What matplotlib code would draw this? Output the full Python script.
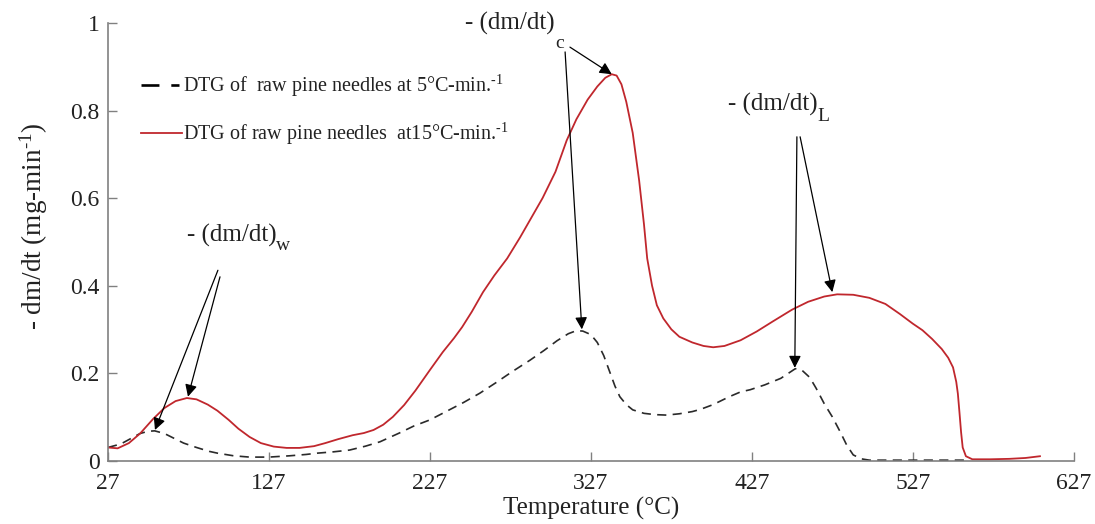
import matplotlib
matplotlib.use("Agg")
import matplotlib.pyplot as plt

plt.rcParams['font.family'] = ['Liberation Serif', 'DejaVu Serif']
plt.rcParams['mathtext.fontset'] = 'custom'
plt.rcParams['mathtext.rm'] = 'Liberation Serif'
plt.rcParams['mathtext.it'] = 'Liberation Serif:italic'

# DTG at 5 °C/min (dashed)
temp_5 = [27, 35, 42, 47, 52, 56, 62, 68, 74, 82, 90, 95, 105, 115, 127, 140, 150,
          157, 167, 177, 187, 196, 208, 217, 227, 237, 248, 258, 268, 278, 289, 298,
          306, 313, 318, 322, 327, 331, 335, 339, 342, 345, 349, 353, 360, 367, 374,
          382, 390, 395, 403, 413, 420, 426, 435, 445, 454, 458, 463, 467, 472, 477,
          482, 486, 490, 495, 500, 520, 540, 560]
dtg_5 = [0.030, 0.038, 0.052, 0.062, 0.067, 0.068, 0.062, 0.051, 0.040, 0.030, 0.021,
         0.017, 0.011, 0.008, 0.008, 0.011, 0.014, 0.017, 0.020, 0.024, 0.033, 0.043,
         0.063, 0.079, 0.093, 0.112, 0.133, 0.154, 0.178, 0.203, 0.229, 0.252, 0.274,
         0.290, 0.297, 0.296, 0.288, 0.270, 0.240, 0.200, 0.170, 0.146, 0.128, 0.116,
         0.108, 0.105, 0.104, 0.107, 0.112, 0.117, 0.128, 0.146, 0.157, 0.162, 0.173,
         0.188, 0.210, 0.207, 0.190, 0.165, 0.130, 0.100, 0.065, 0.035, 0.013, 0.004,
         0.001, 0.001, 0.001, 0.001]

# DTG at 15 °C/min (solid red)
temp_15 = [27, 33, 40, 47, 55, 62, 69, 76, 82, 89, 95, 102, 108, 115, 122, 130, 138,
           146, 155, 162, 170, 179, 186, 192, 198, 204, 211, 218, 227, 235, 242, 247,
           253, 260, 267, 275, 283, 290, 297, 305, 312, 318, 325, 331, 336, 340, 343,
           346, 349, 353, 357, 360, 362, 365, 368, 372, 377, 382, 390, 397, 403, 410,
           420, 430, 440, 452, 462, 472, 480, 490, 500, 510, 519, 527, 533, 539, 545,
           549, 552, 554, 555, 556, 557, 558, 560, 564, 575, 587, 597, 606]
dtg_15 = [0.030, 0.028, 0.040, 0.062, 0.095, 0.120, 0.136, 0.143, 0.140, 0.128, 0.114,
          0.093, 0.073, 0.054, 0.040, 0.032, 0.029, 0.029, 0.033, 0.040, 0.049, 0.058,
          0.063, 0.070, 0.082, 0.100, 0.127, 0.160, 0.207, 0.248, 0.280, 0.305, 0.340,
          0.385, 0.423, 0.462, 0.510, 0.555, 0.600, 0.660, 0.732, 0.780, 0.825, 0.855,
          0.875, 0.883, 0.880, 0.860, 0.820, 0.749, 0.640, 0.540, 0.462, 0.400, 0.355,
          0.325, 0.300, 0.283, 0.270, 0.262, 0.259, 0.262, 0.275, 0.295, 0.318, 0.345,
          0.363, 0.375, 0.380, 0.379, 0.372, 0.358, 0.335, 0.313, 0.298, 0.278, 0.255,
          0.235, 0.213, 0.180, 0.153, 0.110, 0.065, 0.030, 0.010, 0.003, 0.003, 0.004,
          0.006, 0.010]

x_ticks = [27, 127, 227, 327, 427, 527, 627]
y_ticks = [0, 0.2, 0.4, 0.6, 0.8, 1]
y_tick_labels = ['0', '0.2', '0.4', '0.6', '0.8', '1']

label_5 = r'DTG of  raw pine needles at 5°C-min.$^{\text{-1}}$'
label_15 = r'DTG of raw pine needles  at15°C-min.$^{\text{-1}}$'

TEXT = '#222222'

fig = plt.figure(figsize=(10.95, 5.24), dpi=100)
ax = fig.add_axes([0.0986, 0.121, 0.882, 0.835])

ax.plot(temp_5, dtg_5, color='#2a2a2a', lw=1.2, linestyle=(0, (5.5, 3.8)), label=label_5)
ax.plot(temp_15, dtg_15, color='#c0272d', lw=1.3, label=label_15)

ax.set_xlim(27, 627)
ax.set_ylim(0, 1)
ax.set_xticks(x_ticks)
ax.set_xticklabels([str(t) for t in x_ticks])
ax.set_yticks(y_ticks)
ax.set_yticklabels(y_tick_labels)

for side in ('top', 'right'):
    ax.spines[side].set_visible(False)
for side in ('left', 'bottom'):
    ax.spines[side].set_color('#808080')
    ax.spines[side].set_linewidth(1.2)
ax.tick_params(direction='in', length=6.5, width=1, color='#808080',
               labelsize=17, labelcolor=TEXT)
ax.tick_params(axis='x', pad=9)
ax.tick_params(axis='y', pad=6)

ax.set_xlabel('Temperature (°C)', fontsize=18, color=TEXT, labelpad=2)
ax.set_ylabel(r'- dm/dt (mg-min$^{\text{-1}}$)', fontsize=19.5, color=TEXT)
ax.yaxis.set_label_coords(-0.060, 0.536)

leg = ax.legend(loc='upper left', bbox_to_anchor=(0.026, 0.905), frameon=False,
                fontsize=14.5, handlelength=2.05, handletextpad=0.05,
                labelspacing=1.1, borderaxespad=0)
for txt in leg.get_texts():
    txt.set_color(TEXT)
dash_handle = leg.get_lines()[0]
dash_handle.set_linewidth(1.9)
dash_handle.set_color('black')
dash_handle.set_linestyle((0, (6.8, 4.5, 3.1, 30)))

arrow = dict(arrowstyle='-|>', color='black', lw=0.9, mutation_scale=18,
             shrinkA=0, shrinkB=0)


def peak_label(x, y, sub, sx, sy):
    ax.text(x, y, '- (dm/dt)', fontsize=18, color=TEXT, va='baseline', ha='left')
    ax.text(sx, sy, sub, fontsize=14, color=TEXT, va='baseline', ha='left')


# Moisture peaks
peak_label(76.1, 0.500, 'w', 131.5, 0.481)
ax.annotate('', xy=(56.2, 0.070), xytext=(95.3, 0.435), arrowprops=arrow)
ax.annotate('', xy=(76.7, 0.146), xytext=(96.6, 0.420), arrowprops=arrow)

# Cellulose peaks
peak_label(248.7, 0.985, 'c', 305.0, 0.942)
ax.annotate('', xy=(340, 0.883), xytext=(314, 0.945), arrowprops=arrow)
ax.annotate('', xy=(321.4, 0.300), xytext=(311, 0.934), arrowprops=arrow)

# Lignin peaks
peak_label(412.1, 0.801, 'L', 468.0, 0.776)
ax.annotate('', xy=(453.7, 0.212), xytext=(455, 0.74), arrowprops=arrow)
ax.annotate('', xy=(477, 0.385), xytext=(457, 0.74), arrowprops=arrow)

fig.savefig('out.png', dpi=100)
